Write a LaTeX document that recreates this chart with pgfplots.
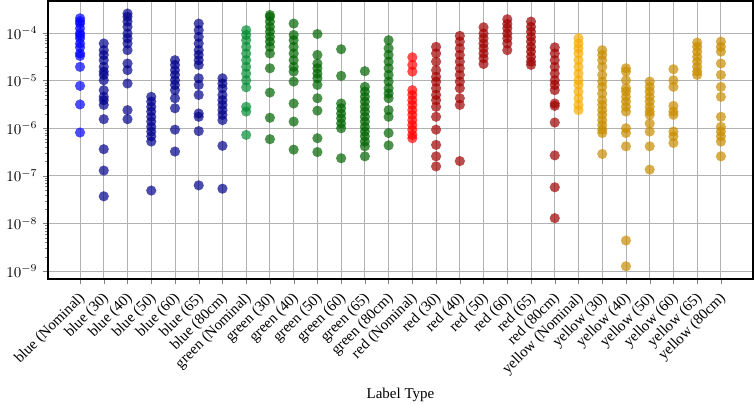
\documentclass[border=0pt]{standalone}
\usepackage{fontspec}
\setmainfont{Liberation Serif}
\usepackage{pgfplots}
\pgfplotsset{compat=1.18}
\definecolor{cbn}{RGB}{0,0,255}
\definecolor{cb}{RGB}{0,0,139}
\definecolor{cgn}{RGB}{0,140,50}
\definecolor{cg}{RGB}{0,100,0}
\definecolor{crn}{RGB}{255,0,0}
\definecolor{cr}{RGB}{160,0,0}
\definecolor{cyn}{RGB}{250,172,0}
\definecolor{cy}{RGB}{200,140,0}
\pgfplotsset{pt/.style={only marks, mark=*, mark size=3.4pt, color=#1, mark options={fill=#1, draw=#1, fill opacity=0.7, draw opacity=0}}}
\begin{document}
\begin{tikzpicture}
\begin{axis}[
  at={(0,0)}, anchor=south west,
  scale only axis, width=470pt, height=185.3pt,
  ymode=log, ymin=6.8e-10, ymax=4.7e-4,
  xmin=-1.35, xmax=28.35,
  xtick={0,...,27},
  xticklabels={},
  yticklabel style={font=\fontsize{10}{12}\selectfont},
  ytick={1e-9,1e-8,1e-7,1e-6,1e-5,1e-4},
  xlabel={Label Type},
  xlabel style={font=\fontsize{10}{12}\selectfont, at={(axis description cs:0.5,0)}, anchor=center, yshift=-77.5pt},
  grid=major, major grid style={line width=0.6pt, draw=black!30},
  tick align=outside, tick pos=left,
  major tick length=3.5pt, minor tick length=2pt,
  axis line style={line width=0.8pt},
  clip=false,
]
\addplot[pt=cbn] coordinates {(0,2.04e-4)(0,1.78e-4)(0,1.58e-4)(0,1.26e-4)(0,1.0e-4)(0,8.9e-5)(0,7.76e-5)(0,6.03e-5)(0,5.0e-5)(0,3.72e-5)(0,3.3e-5)(0,1.95e-5)(0,7.76e-6)(0,3.16e-6)(0,8.13e-7)};
\addplot[pt=cb] coordinates {(1,6.03e-5)(1,4.37e-5)(1,3.47e-5)(1,2.69e-5)(1,1.95e-5)(1,1.55e-5)(1,1.32e-5)(1,1.02e-5)(1,6.31e-6)(1,4.57e-6)(1,3.89e-6)(1,3.09e-6)(1,1.55e-6)(1,3.63e-7)(1,1.29e-7)(1,3.72e-8)
(2,2.57e-4)(2,2.19e-4)(2,1.74e-4)(2,1.35e-4)(2,9.77e-5)(2,7.76e-5)(2,6.03e-5)(2,4.37e-5)(2,2.29e-5)(2,1.66e-5)(2,8.71e-6)(2,2.40e-6)(2,1.55e-6)
(3,4.57e-6)(3,3.63e-6)(3,2.82e-6)(3,2.24e-6)(3,1.74e-6)(3,1.38e-6)(3,1.07e-6)(3,8.51e-7)(3,6.76e-7)(3,5.25e-7)(3,4.90e-8)
(4,2.69e-5)(4,2.14e-5)(4,1.66e-5)(4,1.32e-5)(4,1.02e-5)(4,8.13e-6)(4,6.31e-6)(4,4.27e-6)(4,2.63e-6)(4,9.33e-7)(4,3.24e-7)
(5,1.58e-4)(5,1.15e-4)(5,8.32e-5)(5,6.03e-5)(5,4.37e-5)(5,3.47e-5)(5,2.69e-5)(5,2.14e-5)(5,1.12e-5)(5,8.13e-6)(5,5.01e-6)(5,2.04e-6)(5,1.74e-6)(5,8.71e-7)(5,6.31e-8)
(6,1.12e-5)(6,8.71e-6)(6,6.92e-6)(6,5.01e-6)(6,3.89e-6)(6,3.09e-6)(6,2.40e-6)(6,1.91e-6)(6,1.48e-6)(6,4.27e-7)(6,5.37e-8)};
\addplot[pt=cgn] coordinates {(7,1.15e-4)(7,9.12e-5)(7,7.08e-5)(7,5.13e-5)(7,3.72e-5)(7,2.69e-5)(7,1.95e-5)(7,1.41e-5)(7,1.02e-5)(7,7.24e-6)(7,2.82e-6)(7,2.24e-6)(7,7.24e-7)};
\addplot[pt=cg] coordinates {(8,2.40e-4)(8,2.19e-4)(8,1.74e-4)(8,1.35e-4)(8,1.07e-4)(8,8.32e-5)(8,6.61e-5)(8,5.13e-5)(8,3.72e-5)(8,1.82e-5)(8,5.62e-6)(8,1.66e-6)(8,5.89e-7)
(9,1.58e-4)(9,9.12e-5)(9,7.08e-5)(9,5.13e-5)(9,3.72e-5)(9,2.69e-5)(9,1.95e-5)(9,1.55e-5)(9,9.55e-6)(9,3.31e-6)(9,1.38e-6)(9,3.55e-7)
(10,9.55e-5)(10,3.47e-5)(10,2.29e-5)(10,1.82e-5)(10,1.41e-5)(10,1.12e-5)(10,8.13e-6)(10,4.27e-6)(10,2.34e-6)(10,6.17e-7)(10,3.16e-7)
(11,4.57e-5)(11,1.26e-5)(11,3.31e-6)(11,2.63e-6)(11,2.04e-6)(11,1.62e-6)(11,1.26e-6)(11,1.0e-6)(11,2.34e-7)
(12,1.58e-5)(12,7.41e-6)(12,5.89e-6)(12,4.57e-6)(12,3.63e-6)(12,2.82e-6)(12,2.24e-6)(12,1.74e-6)(12,1.38e-6)(12,1.07e-6)(12,8.51e-7)(12,6.76e-7)(12,5.25e-7)(12,4.17e-7)(12,2.57e-7)
(13,7.08e-5)(13,4.79e-5)(13,3.47e-5)(13,2.51e-5)(13,1.82e-5)(13,1.32e-5)(13,9.55e-6)(13,6.92e-6)(13,5.37e-6)(13,4.27e-6)(13,2.40e-6)(13,1.74e-6)(13,7.94e-7)(13,4.37e-7)};
\addplot[pt=crn] coordinates {(14,3.09e-5)(14,2.14e-5)(14,1.55e-5)(14,6.31e-6)(14,5.01e-6)(14,3.89e-6)(14,3.09e-6)(14,2.40e-6)(14,1.91e-6)(14,1.48e-6)(14,1.17e-6)(14,9.33e-7)(14,7.24e-7)(14,6.17e-7)};
\addplot[pt=cr] coordinates {(15,5.13e-5)(15,3.72e-5)(15,2.51e-5)(15,1.66e-5)(15,1.20e-5)(15,9.55e-6)(15,6.92e-6)(15,5.01e-6)(15,3.89e-6)(15,2.82e-6)(15,1.74e-6)(15,9.33e-7)(15,4.47e-7)(15,2.57e-7)(15,1.58e-7)
(16,8.71e-5)(16,6.61e-5)(16,4.79e-5)(16,3.47e-5)(16,2.51e-5)(16,1.82e-5)(16,1.32e-5)(16,9.55e-6)(16,6.92e-6)(16,4.27e-6)(16,3.09e-6)(16,2.04e-7)
(17,1.32e-4)(17,9.77e-5)(17,7.76e-5)(17,6.03e-5)(17,4.79e-5)(17,3.72e-5)(17,2.95e-5)(17,2.24e-5)
(18,1.95e-4)(18,1.55e-4)(18,1.26e-4)(18,9.77e-5)(18,7.76e-5)(18,6.03e-5)(18,4.37e-5)
(19,1.74e-4)(19,1.35e-4)(19,1.07e-4)(19,8.32e-5)(19,6.61e-5)(19,5.13e-5)(19,4.07e-5)(19,3.16e-5)(19,2.51e-5)(19,2.14e-5)
(20,5.01e-5)(20,3.72e-5)(20,2.69e-5)(20,1.95e-5)(20,1.41e-5)(20,1.02e-5)(20,8.13e-6)(20,6.31e-6)(20,3.31e-6)(20,2.95e-6)(20,1.32e-6)(20,2.69e-7)(20,5.75e-8)(20,1.29e-8)};
\addplot[pt=cyn] coordinates {(21,7.76e-5)(21,6.03e-5)(21,4.79e-5)(21,3.72e-5)(21,2.69e-5)(21,1.95e-5)(21,1.41e-5)(21,1.02e-5)(21,8.13e-6)(21,5.89e-6)(21,4.27e-6)(21,3.09e-6)(21,2.40e-6)};
\addplot[pt=cy] coordinates {(22,4.37e-5)(22,3.47e-5)(22,2.69e-5)(22,1.95e-5)(22,1.32e-5)(22,9.55e-6)(22,7.41e-6)(22,5.37e-6)(22,3.89e-6)(22,3.09e-6)(22,2.40e-6)(22,1.91e-6)(22,1.48e-6)(22,1.17e-6)(22,9.33e-7)(22,7.94e-7)(22,2.88e-7)
(23,1.82e-5)(23,1.55e-5)(23,1.02e-5)(23,6.92e-6)(23,5.89e-6)(23,4.57e-6)(23,3.63e-6)(23,2.82e-6)(23,2.24e-6)(23,1.0e-6)(23,7.94e-7)(23,4.17e-7)(23,4.37e-9)(23,1.26e-9)
(24,9.55e-6)(24,7.41e-6)(24,5.89e-6)(24,4.57e-6)(24,3.63e-6)(24,2.82e-6)(24,2.24e-6)(24,1.91e-6)(24,1.26e-6)(24,8.51e-7)(24,4.17e-7)(24,1.35e-7)
(25,1.74e-5)(25,1.02e-5)(25,7.41e-6)(25,2.95e-6)(25,2.24e-6)(25,1.91e-6)(25,8.51e-7)(25,6.76e-7)(25,4.90e-7)
(26,6.31e-5)(26,5.13e-5)(26,4.07e-5)(26,3.16e-5)(26,2.51e-5)(26,1.95e-5)(26,1.55e-5)(26,1.32e-5)
(27,6.61e-5)(27,5.13e-5)(27,4.07e-5)(27,2.29e-5)(27,1.32e-5)(27,7.41e-6)(27,4.57e-6)(27,1.74e-6)(27,1.07e-6)(27,8.51e-7)(27,6.76e-7)(27,5.25e-7)(27,2.57e-7)};
\pgfplotsinvokeforeach{0,...,27}{\coordinate (t#1) at (axis cs:#1,6.8e-10);}
\end{axis}
\foreach \lab [count=\i from 0] in {{blue (Nominal)},{blue (30)},{blue (40)},{blue (50)},{blue (60)},{blue (65)},{blue (80cm)},{green (Nominal)},{green (30)},{green (40)},{green (50)},{green (60)},{green (65)},{green (80cm)},{red (Nominal)},{red (30)},{red (40)},{red (50)},{red (60)},{red (65)},{red (80cm)},{yellow (Nominal)},{yellow (30)},{yellow (40)},{yellow (50)},{yellow (60)},{yellow (65)},{yellow (80cm)}}
  \node[rotate=45, anchor=north east, inner sep=0pt, font=\fontsize{10}{12}\selectfont] at ([xshift=-1.5pt,yshift=-8pt]t\i) {\lab};
\pgfresetboundingbox
\path (-32pt,-82.7pt) rectangle (470.7pt,186pt);
\end{tikzpicture}
\end{document}
